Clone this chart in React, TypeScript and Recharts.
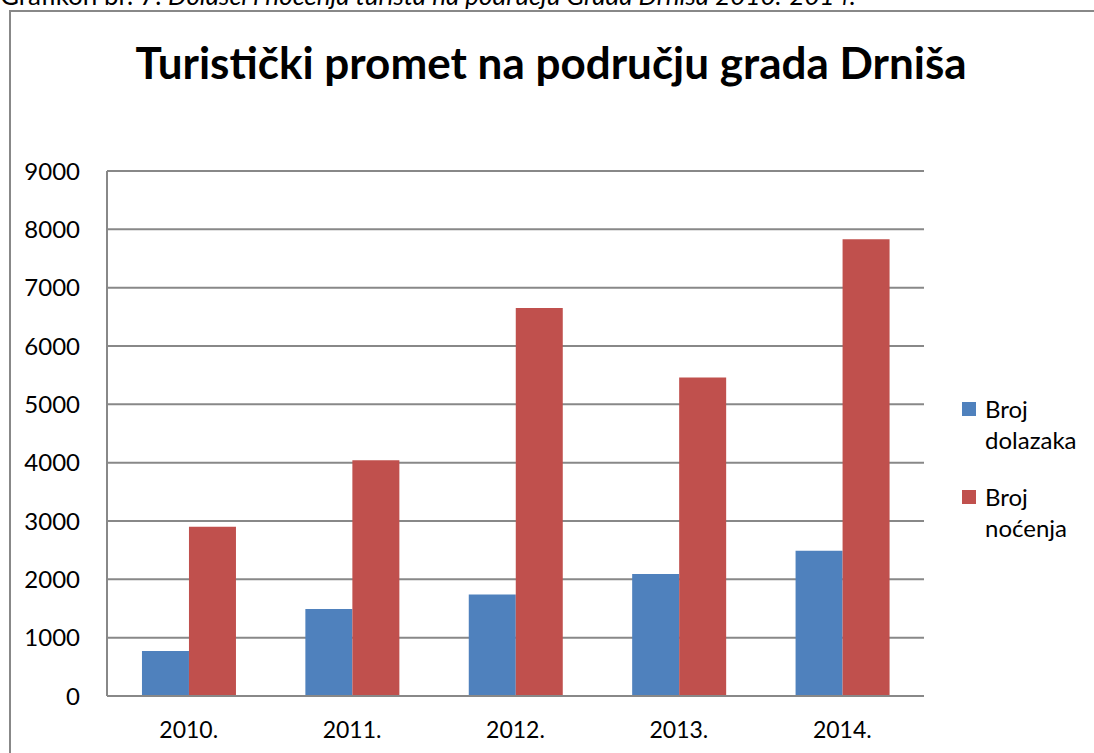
import React from 'react';
import { BarChart, Bar, XAxis, YAxis, CartesianGrid, Legend } from 'recharts';

const years = ['2010.', '2011.', '2012.', '2013.', '2014.'];
const dolasci = [770, 1490, 1740, 2090, 2490];
const nocenja = [2900, 4040, 6650, 5460, 7830];
const yTicks = [0, 1000, 2000, 3000, 4000, 5000, 6000, 7000, 8000, 9000];

const chartData = years.map((year, i) => ({
  year,
  dolasci: dolasci[i],
  nocenja: nocenja[i],
}));

const FONT = 'Lato, "Noto Sans", sans-serif';

const legendItems = [
  { color: '#4F81BD', lines: ['Broj', 'dolazaka'] },
  { color: '#C0504D', lines: ['Broj', 'noćenja'] },
];

const renderLegend = () => (
  <div style={{ fontFamily: FONT, fontSize: 24, color: '#000' }}>
    {legendItems.map((item, i) => (
      <div key={i} style={{ position: 'relative', paddingLeft: 23, lineHeight: '31px', marginBottom: i === 0 ? 26 : 0 }}>
        <span
          style={{
            position: 'absolute',
            left: 0,
            top: 9,
            width: 14,
            height: 14,
            background: item.color,
          }}
        />
        {item.lines.map((l, j) => (
          <div key={j}>{l}</div>
        ))}
      </div>
    ))}
  </div>
);

export default function App() {
  return (
    <div
      style={{
        position: 'absolute',
        left: 0,
        top: 0,
        width: 1094,
        height: 753,
        overflow: 'hidden',
        background: '#fff',
        fontFamily: FONT,
      }}
    >
      {/* caption of the document, cut off at the top like in the source */}
      <div
        style={{
          position: 'absolute',
          left: 0,
          top: -20,
          fontSize: 26,
          lineHeight: '30px',
          whiteSpace: 'nowrap',
          color: '#000',
        }}
      >
        Grafikon br. 7: <i>Dolasci i noćenja turista na području Grada Drniša 2010.-2014.</i>
      </div>
      <div
        style={{
          position: 'absolute',
          left: 9,
          top: 10,
          width: 1200,
          height: 900,
          borderLeft: '2px solid #888',
          borderTop: '2px solid #888',
        }}
      />
      <div
        style={{
          position: 'absolute',
          left: 0,
          top: 36,
          width: 1094,
          textAlign: 'center',
          fontSize: 44,
          fontWeight: 700,
          lineHeight: '53px',
          color: '#000',
          paddingLeft: 8,
          boxSizing: 'border-box',
        }}
      >
        Turistički promet na području grada Drniša
      </div>
      <div style={{ position: 'absolute', left: 0, top: 0 }}>
        <BarChart
          width={1094}
          height={753}
          data={chartData}
          margin={{ top: 171, right: 40, bottom: 0, left: 0 }}
          barCategoryGap="21.4%"
          barGap={0}
        >
          <CartesianGrid vertical={false} stroke="#888" strokeWidth={2} />
          <XAxis
            dataKey="year"
            axisLine={{ stroke: '#888', strokeWidth: 2 }}
            tickLine={false}
            tickSize={0}
            tickMargin={26}
            tick={{ fill: '#000', fontSize: 23, fontFamily: FONT }}
            height={57}
          />
          <YAxis
            width={107}
            domain={[0, 9000]}
            ticks={yTicks}
            interval={0}
            axisLine={{ stroke: '#888', strokeWidth: 2 }}
            tickLine={false}
            tickSize={0}
            tickMargin={27}
            tick={{ fill: '#000', fontSize: 24, fontFamily: FONT }}
          />
          <Legend
            layout="vertical"
            align="right"
            verticalAlign="top"
            content={renderLegend}
            wrapperStyle={{ position: 'absolute', left: 962, top: 393, width: 130 }}
          />
          <Bar dataKey="dolasci" name="Broj dolazaka" fill="#4F81BD" isAnimationActive={false} />
          <Bar dataKey="nocenja" name="Broj noćenja" fill="#C0504D" isAnimationActive={false} />
        </BarChart>
      </div>
    </div>
  );
}
